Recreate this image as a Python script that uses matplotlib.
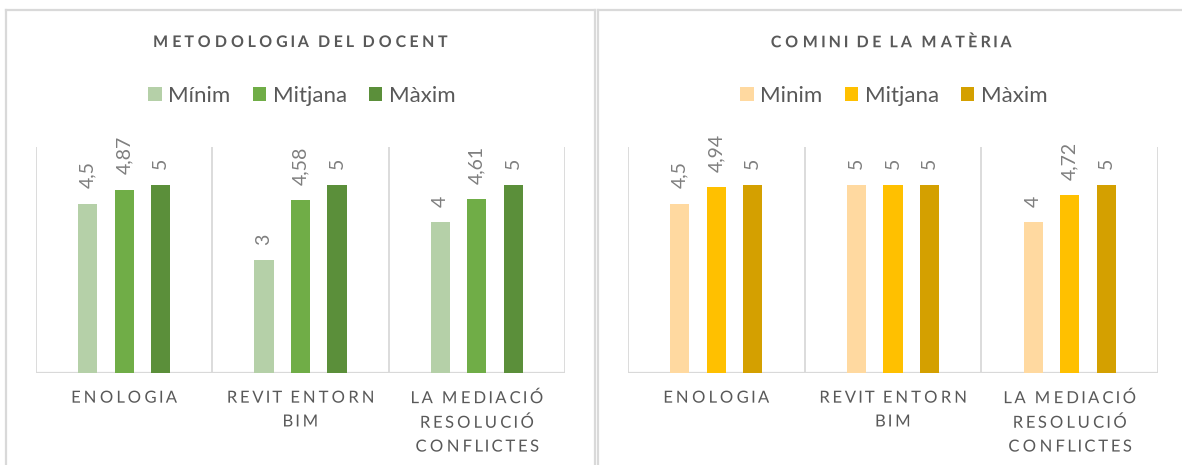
import numpy as np
import matplotlib
matplotlib.use("Agg")
import matplotlib.pyplot as plt
import matplotlib.patheffects as pe
from matplotlib.path import Path
from matplotlib.patches import Patch
from matplotlib.lines import Line2D
from matplotlib.transforms import IdentityTransform

# ---------------- data ----------------
categories = ["ENOLOGIA", "REVIT ENTORN\nBIM", "LA MEDIACIÓ\nRESOLUCIÓ\nCONFLICTES"]

title_left = "METODOLOGIA DEL DOCENT"
series_left = ["Mínim", "Mitjana", "Màxim"]
minim_left = [4.5, 3, 4]
mitjana_left = [4.87, 4.58, 4.61]
maxim_left = [5, 5, 5]

title_right = "COMINI DE LA MATÈRIA"
series_right = ["Minim", "Mitjana", "Màxim"]
minim_right = [4.5, 5, 4]
mitjana_right = [4.94, 5, 4.72]
maxim_right = [5, 5, 5]

colors_left = ["#B5D0A8", "#70AD47", "#5B8F3A"]
colors_right = ["#FFD9A0", "#FFC000", "#D4A000"]

plt.rcParams["font.family"] = ["Lato", "DejaVu Sans"]

W, H = 1182, 465
fig = plt.figure(figsize=(W / 100, H / 100), dpi=100)


class Tracking(pe.AbstractPathEffect):
    """Spread glyphs apart (letter-spacing) while keeping the text as one string."""

    def __init__(self, k):
        super().__init__()
        self.k = k

    def draw_path(self, renderer, gc, tpath, affine, rgbFace=None):
        path = affine.transform_path(tpath)
        verts = path.vertices.copy()
        codes = path.codes
        if codes is None or len(verts) == 0:
            renderer.draw_path(gc, tpath, affine, rgbFace)
            return
        valid = codes != Path.CLOSEPOLY
        xs = verts[valid, 0]
        c = (xs.min() + xs.max()) / 2
        starts = list(np.where(codes == Path.MOVETO)[0]) + [len(verts)]
        for s, e in zip(starts[:-1], starts[1:]):
            m = valid[s:e]
            seg = verts[s:e, 0][m]
            if len(seg) == 0:
                continue
            cx = (seg.min() + seg.max()) / 2
            verts[s:e, 0] += self.k * (cx - c)
        renderer.draw_path(gc, Path(verts, codes), IdentityTransform(), rgbFace)


def px(x, y):
    return x / W, 1 - y / H


# panel borders
border = "#D9D9D9"
for (x0, y0, x1, y1) in [(6, 10, 6, 470), (6, 10, 595, 10), (595, 10, 595, 470),
                         (598, 10, 598, 470), (598, 10, 1190, 10)]:
    a, b = px(x0, y0)
    c, d = px(x1, y1)
    fig.add_artist(Line2D([a, c], [b, d], color=border, lw=1.6, transform=fig.transFigure))


def panel(ax_left_px, ax_right_px, title, title_cx, series, vals, colors, legend_cx):
    x0, y_top = ax_left_px, 147
    x1, y_bot = ax_right_px, 373
    ax = fig.add_axes([x0 / W, 1 - y_bot / H, (x1 - x0) / W, (y_bot - y_top) / H])
    n = len(categories)
    xs = np.arange(n)
    offsets = [-0.207, 0.0, 0.207]
    bw = 0.108
    handles = []
    for j, (name, v, col) in enumerate(zip(series, vals, colors)):
        ax.bar(xs + offsets[j], v, width=bw, color=col, zorder=3)
        for xi, val in zip(xs, v):
            ax.annotate(f"{val:g}".replace(".", ","), xy=(xi + offsets[j], val),
                        xytext=(0, 11), textcoords="offset points", rotation=90,
                        ha="center", va="bottom", fontsize=14, color="#7F7F7F")
        handles.append(Patch(facecolor=col, edgecolor="none", label=name))
    ax.set_xlim(-0.5, n - 0.5)
    ax.set_ylim(0, 6)
    for s in ax.spines.values():
        s.set_visible(False)
    ax.axhline(0, color=border, lw=1.6, zorder=2)
    for b in np.arange(n + 1) - 0.5:
        ax.axvline(b, color=border, lw=1.3, zorder=1)
    ax.set_yticks([])
    ax.set_xticks(xs)
    ax.set_xticklabels(categories, fontsize=12, color="#595959", linespacing=1.6)
    ax.tick_params(axis="x", length=0, pad=12)
    for t in ax.get_xticklabels():
        t.set_path_effects([Tracking(0.27)])
    tx, ty = px(title_cx, 43)
    fig.text(tx, ty, title, ha="center", va="center", fontsize=11.5, fontweight="bold",
             color="#595959", path_effects=[Tracking(0.33)])
    lx, ly = px(legend_cx, 96)
    fig.legend(handles=handles, loc="center", bbox_to_anchor=(lx, ly), ncol=3,
               frameon=False, fontsize=16, labelcolor="#595959",
               handlelength=0.6, handleheight=0.6, handletextpad=0.3,
               columnspacing=1.0, borderpad=0, borderaxespad=0)
    return ax


panel(36, 565, title_left, 300, series_left,
      [minim_left, mitjana_left, maxim_left], colors_left, 302)
panel(628, 1158, title_right, 891, series_right,
      [minim_right, mitjana_right, maxim_right], colors_right, 894)

fig.savefig("out.png", dpi=100)
